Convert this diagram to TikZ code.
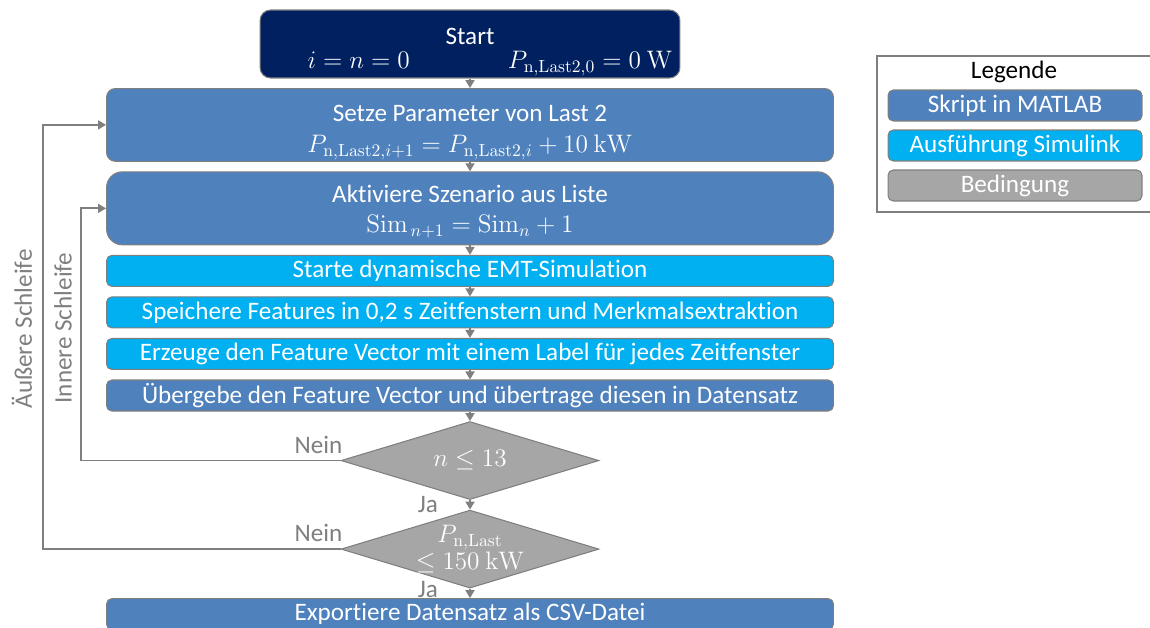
\documentclass[tikz,border=0pt]{standalone}
\usepackage[no-math]{fontspec}
\setmainfont[Ligatures=NoCommon]{Carlito}
\usepackage{tikz}
\usetikzlibrary{arrows.meta,positioning,calc,shapes.geometric}
\definecolor{navy}{HTML}{002060}
\definecolor{matlab}{HTML}{4F81BD}
\definecolor{simu}{HTML}{00B0F0}
\definecolor{cond}{HTML}{A6A6A6}
\definecolor{linegray}{HTML}{7F7F7F}

\begin{document}
\begin{tikzpicture}[x=0.02cm, y=-0.02cm,
  every node/.style={font=\fontsize{14.3}{16}\selectfont},
  box/.style={draw=linegray, line width=0.6pt, text=white, align=center, inner sep=1pt},
  startbox/.style={box, fill=navy, rounded corners=6pt, minimum width=8.4cm, minimum height=1.36cm},
  matbox/.style={box, fill=matlab, rounded corners=3pt, minimum width=14.54cm, minimum height=0.62cm},
  simbox/.style={box, fill=simu, rounded corners=3pt, minimum width=14.54cm, minimum height=0.62cm},
  condbox/.style={draw=linegray, line width=0.6pt, fill=cond, diamond, aspect=3.3, minimum width=5.16cm, minimum height=1.56cm, inner sep=-6pt, text=white, align=center},
  legbox/.style={box, rounded corners=3pt, minimum width=5.08cm, minimum height=0.62cm},
  lbl/.style={text=linegray, inner sep=1pt},
  arr/.style={-{Triangle[length=1.6mm,width=1.8mm]}, draw=linegray, line width=1pt},
  node distance=0.19cm]
  \useasboundingbox (0,0) rectangle (1150,628);
  % Start
  \node[startbox] (start) at (470,44)
    {\rule{0pt}{18.3pt}Start\\[-1.9pt]\makebox[8.2cm]{\hspace*{0.85cm}$i=n=0$\hfill$P_{\mathrm{n,Last2},0}=0\ \mathrm{W}$\hspace*{0.05cm}}};
  % Script steps
  \node[matbox, minimum height=1.4cm, rounded corners=5pt, below=of start] (para)
    {\rule{0pt}{17.5pt}Setze Parameter von Last 2\\[1.8pt]$P_{\mathrm{n,Last2},i+1}=P_{\mathrm{n,Last2},i}+10\ \mathrm{kW}$};
  \node[matbox, minimum height=1.46cm, rounded corners=9pt, below=of para] (aktiv)
    {\rule{0pt}{13.5pt}Aktiviere Szenario aus Liste\\[1.1pt]$\mathrm{Sim}_{\,n+1}=\mathrm{Sim}_n+1$};
  % Simulink steps
  \node[simbox, below=of aktiv] (emt) {Starte dynamische EMT-Simulation};
  \node[simbox, below=of emt] (feat) {Speichere Features in 0,2 s Zeitfenstern und Merkmalsextraktion};
  \node[simbox, below=of feat] (vec) {Erzeuge den Feature Vector mit einem Label für jedes Zeitfenster};
  \node[matbox, below=of vec] (ueber) {Übergebe den Feature Vector und übertrage diesen in Datensatz};
  % Conditions
  \node[condbox, below=of ueber] (cond1) {$n\le 13$};
  \node[condbox, below=of cond1] (cond2) {$P_{\mathrm{n,Last}}$\\[-1pt]$\le 150\ \mathrm{kW}$};
  \node[matbox, below=of cond2] (export) {Exportiere Datensatz als CSV-Datei};
  % Flow
  \draw[arr] (start.south) -- (para.north);
  \draw[arr] (para.south) -- (aktiv.north);
  \draw[arr] (aktiv.south) -- (emt.north);
  \draw[arr] (emt.south) -- (feat.north);
  \draw[arr] (feat.south) -- (vec.north);
  \draw[arr] (vec.south) -- (ueber.north);
  \draw[arr] (ueber.south) -- (cond1.north);
  \draw[arr] (cond1.south) -- (cond2.north);
  \draw[arr] (cond2.south) -- (export.north);
  % Loops
  \coordinate (outerx) at (43,0);
  \coordinate (innerx) at (81,0);
  \draw[arr] (cond1.west) -- (innerx |- cond1.west) |- (aktiv.west);
  \draw[arr] (cond2.west) -- (outerx |- cond2.west) |- (para.west);
  \node[lbl] (nein1) at ($(cond1.west)+(-22,-16)$) {Nein};
  \node[lbl] (nein2) at ($(cond2.west)+(-22,-16)$) {Nein};
  \node[lbl] (ja1) at ($(cond1.south)+(-42,4)$) {Ja};
  \node[lbl] (ja2) at ($(cond2.south)+(-42,1)$) {Ja};
  \node[lbl, rotate=90] (outerlbl) at (22,329) {Äußere Schleife};
  \node[lbl, rotate=90] (innerlbl) at (63,328) {Innere Schleife};
  % Legend
  \draw[draw=linegray, line width=0.6pt] (1150,56) -| (877,212) -- (1150,212);
  \node (legtitle) at (1014,72) {Legende};
  \node[legbox, fill=matlab] (legmat) at (1015,105.5) {Skript in MATLAB};
  \node[legbox, fill=simu] (legsim) at (1015,145.5) {Ausführung Simulink};
  \node[legbox, fill=cond] (legcond) at (1015,185.5) {Bedingung};
\end{tikzpicture}
\end{document}
